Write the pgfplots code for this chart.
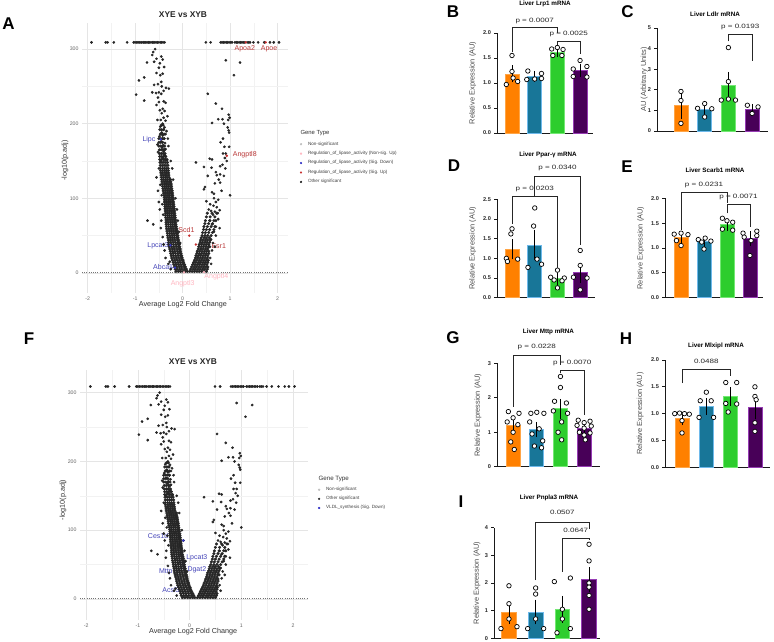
\documentclass[border=0pt]{standalone}
\usepackage{fontspec}
\setmainfont{Liberation Sans}
\usepackage{pgfplots}
\usepackage{pgfplotstable}
\pgfplotsset{compat=1.18}

% ---------- colours ----------
\definecolor{cOr}{RGB}{255,128,0}
\definecolor{cOrE}{RGB}{255,165,70}
\definecolor{cBl}{RGB}{24,118,152}
\definecolor{cBlE}{RGB}{110,185,235}
\definecolor{cGr}{RGB}{45,205,45}
\definecolor{cGrE}{RGB}{115,232,115}
\definecolor{cPu}{RGB}{72,0,88}
\definecolor{cPuE}{RGB}{150,60,180}
\definecolor{vRed}{RGB}{200,45,45}
\definecolor{vBlue}{RGB}{55,55,200}
\definecolor{vPink}{RGB}{255,182,193}
\definecolor{lblRed}{RGB}{185,55,55}
\definecolor{lblBlue}{RGB}{70,70,185}

% ---------- volcano data (shared by both volcano plots) ----------
% non-significant genes near the baseline
\pgfplotstableread[row sep=\\]{
x y\\
-0.15 0.3\\ -0.13 0.9\\ -0.11 0.2\\ -0.09 1.1\\ -0.07 0.5\\ -0.05 0.9\\ -0.03 0.1\\ -0.01 0.6\\
0.01 1.2\\ 0.03 0.3\\ 0.05 0.9\\ 0.07 0.4\\ 0.09 1.0\\ 0.11 0.2\\ 0.13 0.7\\ 0.15 1.1\\
0.17 0.3\\ 0.19 0.8\\ 0.21 0.5\\ 0.23 1.2\\ 0.25 0.1\\ 0.27 0.6\\ 0.29 0.9\\ 0.31 0.3\\
0.33 1.0\\ 0.35 0.5\\ 0.37 0.2\\ 0.39 0.8\\ 0.41 0.4\\ 0.43 1.1\\ 0.45 0.6\\ 0.47 0.3\\
0.49 0.9\\ 0.51 0.5\\ 0.53 0.2\\ -0.12 0.0\\ 0.0 0.0\\ 0.12 0.0\\ 0.24 0.0\\ 0.36 0.0\\ 0.48 0.0\\
}\nstab

% down-regulated arm: one row per -log10(p.adj) level, several genes per row
\pgfplotstableread[row sep=\\]{
y a b c d e f\\
2 -0.14 -0.09 -0.04 0.01 0.06 0.10\\
5 -0.16 -0.115 -0.065 -0.015 0.035 0.08\\
8 -0.17 -0.12 -0.07 -0.02 0.03 0.06\\
11 -0.185 -0.135 -0.085 -0.035 0.015 0.04\\
14 -0.20 -0.15 -0.10 -0.05 0.00 0.02\\
17 -0.215 -0.165 -0.115 -0.065 -0.015 0.01\\
20 -0.23 -0.18 -0.13 -0.08 -0.03 -0.01\\
23 -0.24 -0.195 -0.145 -0.095 -0.045 -0.02\\
26 -0.25 -0.20 -0.15 -0.10 -0.05 -0.035\\
29 -0.26 -0.215 -0.165 -0.115 -0.065 -0.045\\
32 -0.27 -0.22 -0.17 -0.12 -0.07 -0.05\\
35 -0.28 -0.235 -0.185 -0.135 -0.085 -0.06\\
38 -0.29 -0.24 -0.19 -0.14 -0.09 -0.07\\
41 -0.295 -0.25 -0.20 -0.155 -0.105 -0.08\\
44 -0.30 -0.255 -0.21 -0.16 -0.11 -0.085\\
47 -0.31 -0.26 -0.215 -0.17 -0.12 -0.095\\
50 -0.315 -0.27 -0.22 -0.175 -0.13 -0.10\\
53 -0.32 -0.275 -0.23 -0.185 -0.14 -0.11\\
56 -0.33 -0.28 -0.235 -0.19 -0.145 -0.115\\
59 -0.335 -0.29 -0.245 -0.20 -0.155 -0.12\\
62 -0.34 -0.295 -0.25 -0.205 -0.16 -0.13\\
65 -0.345 -0.30 -0.255 -0.21 -0.17 -0.14\\
68 -0.35 -0.305 -0.26 -0.215 -0.175 -0.145\\
71 -0.35 -0.31 -0.265 -0.22 -0.18 -0.15\\
74 -0.355 -0.31 -0.27 -0.225 -0.185 -0.155\\
77 -0.36 -0.315 -0.275 -0.23 -0.19 -0.16\\
80 -0.36 -0.32 -0.28 -0.235 -0.195 -0.165\\
83 -0.365 -0.325 -0.28 -0.24 -0.20 -0.17\\
86 -0.37 -0.33 -0.285 -0.245 -0.205 -0.175\\
89 -0.37 -0.33 -0.29 -0.25 -0.21 -0.18\\
92 -0.375 -0.335 -0.295 -0.255 -0.215 -0.185\\
95 -0.38 -0.34 -0.30 -0.26 -0.22 -0.19\\
98 -0.38 -0.345 -0.305 -0.265 -0.225 -0.20\\
101 -0.385 -0.35 -0.31 -0.27 -0.23 -0.205\\
104 -0.39 -0.35 -0.31 -0.275 -0.235 -0.21\\
107 -0.40 -0.36 -0.32 -0.28 -0.24 -0.215\\
110 -0.41 -0.365 -0.325 -0.285 -0.245 -0.22\\
113 -0.415 -0.37 -0.33 -0.29 -0.25 -0.23\\
116 -0.42 -0.38 -0.34 -0.30 -0.26 -0.235\\
119 -0.43 -0.385 -0.345 -0.305 -0.265 -0.24\\
122 -0.435 -0.39 -0.35 -0.31 -0.27 -0.25\\
125 -0.44 -0.40 -0.36 -0.32 -0.28 -0.255\\
128 -0.45 -0.405 -0.365 -0.325 -0.285 nan\\
131 -0.455 -0.41 -0.37 -0.33 -0.29 nan\\
134 -0.46 -0.42 -0.375 -0.335 -0.295 nan\\
137 -0.465 -0.42 -0.38 -0.34 -0.30 nan\\
140 -0.47 -0.425 -0.385 -0.345 -0.305 nan\\
144 -0.47 -0.43 -0.39 -0.35 -0.31 nan\\
148 -0.475 -0.435 -0.395 -0.355 -0.32 nan\\
152 -0.48 -0.44 -0.40 -0.36 -0.33 nan\\
156 -0.48 -0.44 -0.40 -0.36 nan nan\\
160 -0.49 -0.45 -0.41 -0.37 nan nan\\
165 -0.49 -0.45 -0.41 -0.38 nan nan\\
170 -0.50 -0.46 -0.42 -0.38 nan nan\\
175 -0.50 -0.46 -0.42 nan nan nan\\
180 -0.50 -0.46 -0.42 -0.39 nan nan\\
186 -0.47 -0.43 -0.39 nan nan nan\\
192 -0.48 -0.44 -0.40 nan nan nan\\
198 -0.45 -0.41 nan nan nan nan\\
}\lefttab

% up-regulated arm
\pgfplotstableread[row sep=\\]{
y a b c d e f g h\\
2 0.15 0.20 0.25 0.30 0.35 0.40 0.45 0.50\\
5 0.17 0.22 0.27 0.32 0.37 0.42 0.47 0.52\\
8 0.19 0.24 0.29 0.34 0.39 0.44 0.49 0.53\\
11 0.21 0.26 0.31 0.36 0.41 0.46 0.51 nan\\
14 0.23 0.28 0.33 0.38 0.43 0.48 0.53 nan\\
17 0.25 0.30 0.35 0.40 0.45 0.50 0.54 nan\\
20 0.27 0.32 0.37 0.42 0.47 0.52 nan nan\\
23 0.28 0.33 0.38 0.43 0.48 0.53 nan nan\\
26 0.30 0.35 0.40 0.45 0.50 0.55 nan nan\\
29 0.31 0.36 0.41 0.46 0.51 0.55 nan nan\\
32 0.33 0.38 0.43 0.48 0.53 nan nan nan\\
35 0.34 0.39 0.44 0.49 0.54 0.57 nan nan\\
38 0.35 0.40 0.45 0.50 0.55 nan nan nan\\
41 0.37 0.42 0.47 0.52 0.57 nan nan nan\\
44 0.38 0.43 0.48 0.53 0.58 nan nan nan\\
47 0.39 0.45 0.50 0.56 nan nan nan nan\\
50 0.41 0.47 0.53 0.60 nan nan nan nan\\
54 0.42 0.48 0.55 0.63 nan nan nan nan\\
58 0.44 0.50 0.57 0.66 nan nan nan nan\\
62 0.45 0.52 0.60 0.68 nan nan nan nan\\
66 0.47 0.55 0.63 nan nan nan nan nan\\
70 0.48 0.57 0.66 0.70 nan nan nan nan\\
75 0.50 0.58 0.68 nan nan nan nan nan\\
80 0.52 0.62 0.72 nan nan nan nan nan\\
}\righttab

% remaining significant genes (capped values sit at 309)
\pgfplotstableread[row sep=\\]{
x y\\
-1.92 309\\ -1.62 309\\ -1.58 309\\ -1.45 309\\ -1.17 309\\ -1.03 309\\ -1.0 309\\ -0.97 309\\
-0.94 309\\ -0.91 309\\ -0.88 309\\ -0.86 309\\ -0.83 309\\ -0.8 309\\ -0.78 309\\ -0.75 309\\
-0.72 309\\ -0.7 309\\ -0.67 309\\ -0.64 309\\ -0.62 309\\ -0.59 309\\ -0.56 309\\ -0.53 309\\
-0.5 309\\ -0.47 309\\ -0.44 309\\ -0.41 309\\ -0.38 309\\
0.49 309\\ 0.59 309\\ 0.8 309\\ 0.83 309\\ 0.86 309\\ 0.89 309\\ 0.92 309\\ 0.95 309\\
0.98 309\\ 1.01 309\\ 1.04 309\\ 1.1 309\\ 1.13 309\\ 1.16 309\\ 1.19 309\\ 1.22 309\\
1.25 309\\ 1.28 309\\ 1.31 309\\ 1.36 309\\ 1.39 309\\ 1.42 309\\ 1.49 309\\ 1.59 309\\
1.72 309\\ 1.84 309\\ 1.92 309\\ 2.03 309\\
-0.58 300\\ -0.64 292\\ -0.45 290\\ -0.55 287\\ -0.42 286\\ -0.75 282\\ -0.6 283\\ -0.48 281\\
-0.39 276\\ -0.55 268\\ -0.42 267\\ -0.81 262\\ -0.92 258\\ -0.45 256\\ -0.52 253\\ -0.6 252\\
-0.44 250\\ -0.29 247\\ -0.35 248\\ -0.98 239\\ -0.64 242\\ -0.5 242\\ -0.45 240\\ -0.56 241\\
-0.81 231\\ -0.5 229\\ -0.4 230\\ -0.36 228\\ -0.42 220\\ -0.48 218\\ -0.38 217\\ -0.44 214\\
-0.4 208\\ -0.46 205\\ -0.36 204\\ -0.42 200\\ -0.47 196\\ -0.38 195\\ -0.4 192\\ -0.44 188\\
-0.36 186\\ -0.42 184\\ -0.39 180\\ -0.45 176\\ -0.37 174\\ -0.41 171\\ -0.43 168\\ -0.36 166\\
-0.4 163\\ -0.44 160\\ -0.38 158\\ -0.35 156\\ -0.42 154\\ -0.39 152\\ -0.46 150\\ -0.33 151\\
-0.52 162\\ -0.53 172\\ -0.49 183\\ -0.34 190\\ -0.32 210\\ -0.55 225\\ -0.31 180\\ -0.52 235\\
-0.47 265\\ -0.5 275\\ -0.62 296\\ -0.4 244\\ -0.53 205\\ -0.3 170\\
-0.42 48\\ -0.4 38\\ -0.38 30\\ -0.45 70\\ -0.5 95\\ -0.48 85\\ -0.52 110\\ -0.55 128\\
-0.5 140\\ -0.46 60\\ -0.36 20\\ -0.3 12\\ -0.1 70\\ -0.12 85\\ -0.15 100\\ -0.2 125\\
-0.22 140\\ -0.25 150\\ -0.74 70\\ -0.62 65\\ -0.44 104\\ -0.47 118\\ -0.25 5\\ -0.27 15\\
-0.05 40\\ -0.08 55\\ -0.41 78\\ -0.43 92\\
0.91 285\\ 1.21 282\\ 1.08 265\\ 0.53 240\\ 0.70 227\\ 0.83 220\\ 0.97 212\\ 0.99 208\\
0.96 205\\ 0.75 206\\ 0.84 206\\ 0.62 201\\ 0.87 200\\ 0.97 191\\ 0.98 188\\ 0.85 180\\
0.98 169\\ 0.88 169\\ 0.91 160\\ 0.89 154\\ 0.57 153\\ 0.62 152\\ 0.28 148\\ 0.79 143\\
0.45 142\\ 0.61 141\\ 0.72 131\\ 0.79 132\\ 0.87 130\\ 1.0 104\\ 0.47 115\\ 0.45 112\\
0.68 120\\ 0.79 121\\ 0.66 106\\ 0.62 108\\ 0.75 98\\ 0.70 95\\ 0.58 92\\ 0.65 90\\
0.72 88\\ 0.55 85\\ 0.60 83\\ 0.68 82\\ 0.78 84\\ 0.74 80\\ 0.64 78\\ 0.50 96\\
0.82 110\\ 0.9 140\\ 0.93 150\\ 0.85 160\\ 0.80 175\\ 0.95 195\\ 0.70 135\\ 0.76 125\\
0.84 145\\ 0.66 100\\ 0.53 130\\ 0.58 70\\ 0.62 65\\ 0.7 62\\ 0.75 72\\ 0.66 55\\
0.6 45\\ 0.64 40\\ 0.7 50\\ 0.78 60\\ 0.62 30\\ 0.68 35\\ 0.58 20\\ 0.6 12\\
}\sctab

% ---------- styles ----------
\pgfplotsset{
  volc/.style={
    scale only axis, clip=false,
    axis line style={draw=none},
    major tick length=0pt, minor tick length=0pt,
    xtick={-2,-1,0,1,2}, ytick={0,100,200,300},
    minor xtick={-1.5,-0.5,0.5,1.5}, minor ytick={50,150,250},
    grid=both,
    major grid style={black!10, line width=0.45pt},
    minor grid style={black!5, line width=0.3pt},
    tick label style={font=\fontsize{5.2}{6}\selectfont, text=black!60},
    label style={font=\fontsize{7.2}{8}\selectfont, text=black!80},
    /pgf/number format/assume math mode=true,
    legend cell align=left,
    legend image code/.code={\draw[##1] plot coordinates {(0pt,0pt)};},
    legend style={draw=none, fill=none, inner sep=0pt,
      font=\fontsize{4.6}{5}\selectfont, text=black!75,
      nodes={inner sep=0.6pt},
      /tikz/every odd column/.append style={column sep=5.5pt}},
  },
  sigm/.style={forget plot, only marks, mark=*, mark size=1.15pt, black!85},
  densem/.style={forget plot, only marks, mark=*, mark size=1.35pt, black!85},
  barax/.style={
    scale only axis, clip=false,
    axis x line*=bottom, axis y line*=left,
    axis line style={line width=0.9pt, black!90, -},
    xtick=\empty, ymin=0,
    tick align=outside, major tick length=2.6pt,
    ytick style={line width=0.9pt, black!90},
    yticklabel style={font=\fontsize{5.6}{6}\selectfont\bfseries, text=black!85},
    ylabel style={font=\fontsize{7.4}{8}\selectfont, text=black!70, anchor=center},
    /pgf/number format/assume math mode=true,
  },
  onedec/.style={yticklabel style={/pgf/number format/.cd, fixed, fixed zerofill, precision=1}},
  barO/.style={ybar, bar width=14pt, fill=cOr, draw=cOrE, line width=0.8pt},
  barB/.style={ybar, bar width=14pt, fill=cBl, draw=cBlE, line width=0.8pt},
  barG/.style={ybar, bar width=14pt, fill=cGr, draw=cGrE, line width=0.8pt},
  barP/.style={ybar, bar width=14pt, fill=cPu, draw=cPuE, line width=0.8pt},
  pts/.style={forget plot, only marks, mark=*, mark size=2.25pt,
    mark options={fill=white, draw=black, line width=0.7pt}},
  errb/.style={forget plot, draw=none, mark=none,
    error bars/.cd, y dir=both, y explicit,
    error bar style={draw=black, line width=0.75pt},
    error mark options={draw=black, line width=0.75pt, mark size=3.5pt}},
}
\tikzset{
  brk/.style={draw=black!85, line width=0.7pt},
  pv/.style={font=\fontsize{6.2}{7}\selectfont, text=black!85, xscale=1.3},
  ttl/.style={font=\fontsize{6.3}{7}\selectfont\bfseries},
  vttl/.style={font=\fontsize{8.4}{9}\selectfont\bfseries, text=black!85},
  lt/.style={font=\fontsize{17}{18}\selectfont\bfseries},
  gl/.style={font=\fontsize{7}{8}\selectfont},
}

% significant genes, shared by both volcano plots
\newcommand{\volcsig}{%
  \addplot[densem] table[x=a,y=y]{\lefttab};
  \addplot[densem] table[x=b,y=y]{\lefttab};
  \addplot[densem] table[x=c,y=y]{\lefttab};
  \addplot[densem] table[x=d,y=y]{\lefttab};
  \addplot[densem] table[x=e,y=y]{\lefttab};
  \addplot[densem] table[x=f,y=y]{\lefttab};
  \addplot[densem] table[x=a,y=y]{\righttab};
  \addplot[densem] table[x=b,y=y]{\righttab};
  \addplot[densem] table[x=c,y=y]{\righttab};
  \addplot[densem] table[x=d,y=y]{\righttab};
  \addplot[densem] table[x=e,y=y]{\righttab};
  \addplot[densem] table[x=f,y=y]{\righttab};
  \addplot[densem] table[x=g,y=y]{\righttab};
  \addplot[densem] table[x=h,y=y]{\righttab};
  \addplot[sigm] table[x=x,y=y]{\sctab};
}

\begin{document}
\begin{tikzpicture}
\path[use as bounding box] (0pt,0pt) rectangle (774pt,642pt);
\fill[white] (0pt,0pt) rectangle (774pt,642pt);

% ================= A: volcano, lipase regulation =================
\begin{axis}[volc, at={(82pt,349pt)}, anchor=south west, width=206pt, height=270pt,
  xmin=-2.12, xmax=2.22, ymin=-27, ymax=335,
  xlabel={Average Log2 Fold Change}, xlabel style={at={(axis description cs:0.49,-0.044)}, anchor=center},
  ylabel={-log10(p.adj)}, ylabel style={at={(axis description cs:-0.083,0.49)}, anchor=center},
  legend style={at={(axis description cs:1.058,0.563)}, anchor=north west, row sep=3.4pt}]
\addlegendimage{only marks, mark=*, mark size=0.9pt, black!25}
\addlegendentry{Non-significant}
\addlegendimage{only marks, mark=*, mark size=0.9pt, vPink}
\addlegendentry{Regulation\_of\_lipase\_activity (Non-sig. Up)}
\addlegendimage{only marks, mark=*, mark size=0.9pt, vBlue}
\addlegendentry{Regulation\_of\_lipase\_activity (Sig. Down)}
\addlegendimage{only marks, mark=*, mark size=0.9pt, vRed}
\addlegendentry{Regulation\_of\_lipase\_activity (Sig. Up)}
\addlegendimage{only marks, mark=*, mark size=0.9pt, black!85}
\addlegendentry{Other significant}
\addplot[forget plot, only marks, mark=*, mark size=0.75pt, black!22] table[x=x,y=y]{\nstab};
\addplot[forget plot, black!55, line width=0.6pt, dash pattern=on 0.7pt off 1.5pt] coordinates {(-2.12,1.3) (2.22,1.3)};
\volcsig
\addplot[forget plot, only marks, mark=*, mark size=1.0pt, vPink] coordinates {(0.03,0.6) (0.45,0.9)};
\addplot[forget plot, only marks, mark=*, mark size=1.0pt, vBlue] coordinates {(-0.46,179) (-0.26,37) (-0.16,7)};
\addplot[forget plot, only marks, mark=*, mark size=1.0pt, vRed] coordinates {(1.75,309) (1.33,309) (0.93,157) (0.14,50) (0.28,38)};
\node[gl, text=lblBlue] at (axis cs:-0.71,179) {Lipc};
\node[gl, text=lblRed] at (axis cs:1.31,300) {Apoa2};
\node[gl, text=lblRed] at (axis cs:1.82,301) {Apoe};
\node[gl, text=lblRed] at (axis cs:1.31,158) {Angptl8};
\node[gl, text=lblRed] at (axis cs:0.08,57) {Scd1};
\node[gl, text=lblRed] at (axis cs:0.76,36) {Esr1};
\node[gl, text=lblBlue] at (axis cs:-0.52,36) {Lpcat3};
\node[gl, text=lblBlue] at (axis cs:-0.41,8.5) {Abca1};
\draw[lblBlue, line width=0.4pt] (axis cs:-0.29,8) -- (axis cs:-0.17,7);
\node[gl, text=vPink] at (axis cs:0.0,-15) {Angptl3};
\node[gl, text=vPink] at (axis cs:0.71,-5) {Angptl4};
\end{axis}
\node[vttl] at (183pt,627pt) {XYE vs XYB};
\node[anchor=west, font=\fontsize{5.9}{6}\selectfont, text=black!80] at (297pt,509pt) {Gene Type};

% ================= F: volcano, VLDL synthesis =================
\begin{axis}[volc, at={(80pt,22pt)}, anchor=south west, width=228pt, height=250pt,
  xmin=-2.12, xmax=2.29, ymin=-30.6, ymax=333,
  xlabel={Average Log2 Fold Change}, xlabel style={at={(axis description cs:0.496,-0.047)}, anchor=center},
  ylabel={-log10(p.adj)}, ylabel style={at={(axis description cs:-0.075,0.48)}, anchor=center},
  legend style={at={(axis description cs:1.044,0.534)}, anchor=north west, row sep=3.1pt}]
\addlegendimage{only marks, mark=*, mark size=0.9pt, black!25}
\addlegendentry{Non-significant}
\addlegendimage{only marks, mark=*, mark size=0.9pt, black!85}
\addlegendentry{Other significant}
\addlegendimage{only marks, mark=*, mark size=0.9pt, vBlue}
\addlegendentry{VLDL\_synthesis (Sig. Down)}
\addplot[forget plot, only marks, mark=*, mark size=0.75pt, black!22] table[x=x,y=y]{\nstab};
\addplot[forget plot, black!55, line width=0.6pt, dash pattern=on 0.7pt off 1.5pt] coordinates {(-2.12,1.3) (2.29,1.3)};
\volcsig
\addplot[forget plot, only marks, mark=*, mark size=1.0pt, vBlue] coordinates {(-0.12,85)};
\node[gl, text=lblBlue] at (axis cs:-0.61,92) {Ces1d};
\node[gl, text=lblBlue] at (axis cs:0.14,60) {Lpcat3};
\node[gl, text=lblBlue] at (axis cs:0.14,42) {Dgat2};
\node[gl, text=lblBlue] at (axis cs:-0.46,39) {Mttp};
\node[gl, text=lblBlue] at (axis cs:-0.36,13) {Acsl3};
\end{axis}
\node[vttl] at (193pt,280.3pt) {XYE vs XYB};
\node[anchor=west, font=\fontsize{6.2}{7}\selectfont, text=black!80] at (315pt,163pt) {Gene Type};

% ================= B: Lrp1 =================
\begin{axis}[barax, onedec, at={(497pt,509pt)}, anchor=south west, width=96pt, height=100pt,
  xmin=-0.66, xmax=3.57, ymax=2, ytick={0,0.5,1,1.5,2},
  ylabel={Relative Expression (AU)}, ylabel style={at={(axis description cs:-0.253,0.5)}}]
\addplot[barO] coordinates {(0,1.18)};
\addplot[barB] coordinates {(1,1.13)};
\addplot[barG] coordinates {(2,1.62)};
\addplot[barP] coordinates {(3,1.25)};
\addplot[errb] coordinates {(0,1.18) +- (0,0.10) (1,1.13) +- (0,0.04) (2,1.62) +- (0,0.04) (3,1.25) +- (0,0.06)};
\addplot[pts] coordinates {(0,1.55) (0,1.23) (-0.25,0.97) (0.25,1.03) (0.05,1.1)
  (0.7,1.24) (1.3,1.19) (0.65,1.07) (1,1.08) (1.3,1.09)
  (1.75,1.68) (2,1.71) (2.25,1.67) (1.8,1.55) (2.2,1.55)
  (3,1.45) (3.3,1.33) (2.7,1.28) (2.7,1.13) (3.3,1.12)};
\draw[brk] (axis cs:0,1.61) |- (axis cs:2,2.11) -- (axis cs:2,2.0);
\node[pv] at (axis cs:1,2.25) {p = 0.0007};
\draw[brk] (axis cs:2,1.75) |- (axis cs:3,1.83) -- (axis cs:3,1.58);
\node[pv] at (axis cs:2.5,1.98) {p = 0.0025};
\end{axis}

% ================= C: Ldlr =================
\begin{axis}[barax, at={(657pt,511pt)}, anchor=south west, width=111pt, height=103pt,
  xmin=-1.01, xmax=3.67, ymax=5, ytick={0,1,2,3,4,5},
  ylabel={AU (Arbitrary Units)}, ylabel style={at={(axis description cs:-0.115,0.5)}}]
\addplot[barO] coordinates {(0,1.22)};
\addplot[barB] coordinates {(1,1.05)};
\addplot[barG] coordinates {(2,2.2)};
\addplot[barP] coordinates {(3,1.05)};
\addplot[errb] coordinates {(0,1.22) +- (0,0.45) (1,1.05) +- (0,0.15) (2,2.2) +- (0,0.5) (3,1.05) +- (0,0.1)};
\addplot[pts] coordinates {(0,1.92) (0,1.48) (0,0.37)
  (1,1.33) (0.7,1.1) (1.3,1.08) (1,0.68)
  (2,4.05) (2,2.4) (1.7,1.5) (2,1.55) (2.3,1.5)
  (2.8,1.25) (3.25,1.17) (3,0.85)};
\draw[brk] (axis cs:2,4.35) |- (axis cs:3,4.67) -- (axis cs:3,3.38);
\node[pv] at (axis cs:2.5,5.05) {p = 0.0193};
\end{axis}

% ================= D: Ppar-gamma =================
\begin{axis}[barax, onedec, at={(497pt,344.3pt)}, anchor=south west, width=98pt, height=98.4pt,
  xmin=-0.66, xmax=3.65, ymax=2.5, ytick={0,0.5,1,1.5,2,2.5},
  ylabel={Relative Expression (AU)}, ylabel style={at={(axis description cs:-0.248,0.5)}}]
\addplot[barO] coordinates {(0,1.23)};
\addplot[barB] coordinates {(1,1.34)};
\addplot[barG] coordinates {(2,0.48)};
\addplot[barP] coordinates {(3,0.63)};
\addplot[errb] coordinates {(0,1.23) +- (0,0.17) (1,1.34) +- (0,0.30) (2,0.48) +- (0,0.07) (3,0.63) +- (0,0.17)};
\addplot[pts] coordinates {(0,1.75) (-0.05,1.62) (-0.25,1.0) (0.25,0.98) (-0.2,0.92)
  (1,2.28) (0.95,1.82) (1.1,0.98) (1.3,0.85) (0.7,0.77)
  (2,0.70) (1.7,0.52) (2.3,0.50) (1.85,0.45) (2.2,0.43) (2,0.25)
  (3,1.2) (3,0.82) (2.7,0.52) (3.3,0.5) (3,0.2)};
\draw[brk] (axis cs:0,1.87) |- (axis cs:2,2.57) -- (axis cs:2,0.75);
\node[pv] at (axis cs:1,2.76) {p = 0.0203};
\draw[brk] (axis cs:1,2.57) |- (axis cs:3,3.08) -- (axis cs:3,1.34);
\node[pv] at (axis cs:2,3.29) {p = 0.0340};
\end{axis}

% ================= E: Scarb1 =================
\begin{axis}[barax, onedec, at={(665pt,344.3pt)}, anchor=south west, width=98pt, height=99.3pt,
  xmin=-0.7, xmax=3.57, ymax=2, ytick={0,0.5,1,1.5,2},
  ylabel={Relative Expression (AU)}, ylabel style={at={(axis description cs:-0.248,0.5)}}]
\addplot[barO] coordinates {(0,1.22)};
\addplot[barB] coordinates {(1,1.13)};
\addplot[barG] coordinates {(2,1.47)};
\addplot[barP] coordinates {(3,1.19)};
\addplot[errb] coordinates {(0,1.22) +- (0,0.05) (1,1.13) +- (0,0.04) (2,1.47) +- (0,0.05) (3,1.19) +- (0,0.08)};
\addplot[pts] coordinates {(-0.3,1.28) (0,1.3) (0.3,1.27) (-0.2,1.15) (0,1.05)
  (0.75,1.17) (1.05,1.2) (1.3,1.14) (0.9,1.12) (1,0.98)
  (1.8,1.6) (2.25,1.52) (2,1.55) (1.8,1.38) (2.25,1.36)
  (2.7,1.3) (3.3,1.34) (2.75,1.22) (3.3,1.25) (3.05,1.15) (3,0.85)};
\draw[brk] (axis cs:0,1.36) |- (axis cs:2,2.13) -- (axis cs:2,1.9);
\node[pv] at (axis cs:1,2.28) {p = 0.0231};
\draw[brk] (axis cs:2,1.7) |- (axis cs:3,1.88) -- (axis cs:3,1.43);
\node[pv] at (axis cs:2.5,2.02) {p = 0.0071};
\end{axis}

% ================= G: Mttp =================
\begin{axis}[barax, at={(497pt,175.3pt)}, anchor=south west, width=103pt, height=103.3pt,
  xmin=-0.68, xmax=3.67, ymax=3, ytick={0,1,2,3},
  ylabel={Relative Expression (AU)}, ylabel style={at={(axis description cs:-0.184,0.5)}}]
\addplot[barO] coordinates {(0,1.2)};
\addplot[barB] coordinates {(1,1.08)};
\addplot[barG] coordinates {(2,1.68)};
\addplot[barP] coordinates {(3,1.12)};
\addplot[errb] coordinates {(0,1.2) +- (0,0.13) (1,1.08) +- (0,0.12) (2,1.68) +- (0,0.19) (3,1.12) +- (0,0.06)};
\addplot[pts] coordinates {(-0.2,1.6) (0.25,1.55) (0,1.42) (-0.25,1.3) (0.2,1.22) (0,1.0) (-0.1,0.72) (0.05,0.5)
  (0.75,1.55) (1,1.58) (1.3,1.55) (0.7,1.3) (1.1,1.1) (0.8,0.95) (1.25,0.75) (0.9,0.6) (1.2,0.55)
  (2,2.62) (2,2.3) (1.75,1.9) (2.25,1.85) (1.7,1.62) (2.3,1.55) (2.05,1.3) (1.9,1.0) (2.05,0.78)
  (2.75,1.35) (3.25,1.32) (3,1.28) (2.7,1.2) (3.3,1.18) (3,1.12) (2.8,1.0) (3.25,0.98) (3,0.92) (3.05,0.78)};
\draw[brk] (axis cs:0,1.74) |- (axis cs:2,3.24) -- (axis cs:2,2.95);
\node[pv] at (axis cs:1,3.48) {p = 0.0228};
\draw[brk] (axis cs:2,2.73) |- (axis cs:3,2.81) -- (axis cs:3,1.5);
\node[pv] at (axis cs:2.5,3.02) {p = 0.0070};
\end{axis}

% ================= H: Mlxipl =================
\begin{axis}[barax, onedec, at={(665pt,174.7pt)}, anchor=south west, width=105pt, height=107.3pt,
  xmin=-0.7, xmax=3.62, ymax=2, ytick={0,0.5,1,1.5,2},
  ylabel={Relative Expression (AU)}, ylabel style={at={(axis description cs:-0.235,0.5)}}]
\addplot[barO] coordinates {(0,0.91)};
\addplot[barB] coordinates {(1,1.13)};
\addplot[barG] coordinates {(2,1.32)};
\addplot[barP] coordinates {(3,1.12)};
\addplot[errb] coordinates {(0,0.91) +- (0,0.06) (1,1.13) +- (0,0.09) (2,1.32) +- (0,0.11) (3,1.12) +- (0,0.16)};
\addplot[pts] coordinates {(-0.3,1.0) (-0.1,1.01) (0.1,1.0) (0.3,0.99) (0,0.87) (0,0.64)
  (1,1.4) (0.75,1.24) (1.2,1.24) (0.7,0.93) (1.3,0.93)
  (1.8,1.58) (2.25,1.58) (1.8,1.19) (2.25,1.18) (1.9,1.03)
  (3,1.5) (3,1.32) (3.05,1.26) (3,0.83) (3,0.67)};
\draw[brk] (axis cs:0,1.57) |- (axis cs:2,1.83) -- (axis cs:2,1.70);
\node[pv] at (axis cs:1,1.97) {0.0488};
\end{axis}

% ================= I: Pnpla3 =================
\begin{axis}[barax, at={(494pt,3.7pt)}, anchor=south west, width=106pt, height=110.6pt,
  xmin=-0.56, xmax=3.41, ymax=4, ytick={0,1,2,3,4},
  ylabel={Relative Expression (AU)}, ylabel style={at={(axis description cs:-0.16,0.5)}}]
\addplot[barO, bar width=14.5pt] coordinates {(0,0.92)};
\addplot[barB, bar width=14.5pt] coordinates {(1,0.95)};
\addplot[barG, bar width=14.5pt] coordinates {(2,1.05)};
\addplot[barP, bar width=14.5pt] coordinates {(3,2.12)};
\addplot[errb] coordinates {(0,0.92) +- (0,0.28) (1,0.95) +- (0,0.32) (2,1.05) +- (0,0.36) (3,2.12) +- (0,0.33)};
\addplot[pts] coordinates {(0,1.9) (0,1.25) (0,0.7) (-0.3,0.35) (0.3,0.42)
  (1,1.82) (1,1.6) (1,0.7) (0.7,0.35) (1.3,0.35)
  (1.7,2.05) (2.3,2.18) (2,1.05) (2,0.7) (2.3,0.35) (1.8,0.2)
  (3,3.4) (3,2.8) (3,2.0) (3,1.85) (3,1.55) (3,1.05)};
\draw[brk] (axis cs:1,2.1) |- (axis cs:3,4.2) -- (axis cs:3,3.97);
\node[pv] at (axis cs:2,4.54) {0.0507};
\draw[brk] (axis cs:2,2.41) |- (axis cs:3,3.61) -- (axis cs:3,3.55);
\node[pv] at (axis cs:2.5,3.92) {0.0647};
\end{axis}

% ---------- panel titles ----------
\node[ttl] at (545pt,638pt) {Liver Lrp1 mRNA};
\node[ttl] at (715pt,628pt) {Liver Ldlr mRNA};
\node[ttl] at (548pt,487pt) {Liver Ppar-γ mRNA};
\node[ttl] at (715pt,471.3pt) {Liver Scarb1 mRNA};
\node[ttl] at (548.5pt,310.3pt) {Liver Mttp mRNA};
\node[ttl] at (716pt,296.3pt) {Liver Mlxipl mRNA};
\node[ttl] at (549pt,143.7pt) {Liver Pnpla3 mRNA};

% ---------- panel letters ----------
\node[lt] at (8.5pt,618pt) {A};
\node[lt] at (453pt,630.3pt) {B};
\node[lt] at (627.5pt,630.3pt) {C};
\node[lt] at (454pt,476.2pt) {D};
\node[lt] at (627pt,475.3pt) {E};
\node[lt] at (29pt,303.7pt) {F};
\node[lt] at (453pt,304pt) {G};
\node[lt] at (626pt,303pt) {H};
\node[lt] at (461pt,140.5pt) {I};
\end{tikzpicture}
\end{document}
